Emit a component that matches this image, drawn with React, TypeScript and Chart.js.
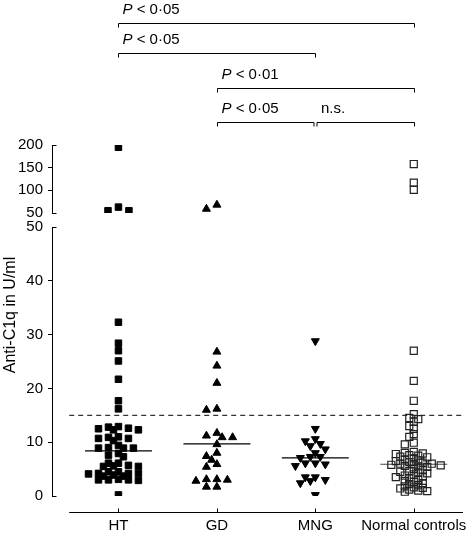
import React, { useEffect, useRef } from 'react';
import { Chart, registerables } from 'chart.js';

Chart.register(...registerables);

// ---------- data ----------
const categories = ['HT', 'GD', 'MNG', 'Normal controls'];

const htValues = [
  195, 63, 55, 55,
  32.3, 28.4, 27.0, 25.1, 21.7, 17.7, 16.2,
  12.9, 12.8, 12.6, 12.5, 12.3, 12.3,
  11.0, 10.9, 10.7, 10.7, 10.3,
  9.4, 9.0, 8.9, 8.9, 8.9,
  7.9, 7.6, 7.3,
  6.1, 6.1, 5.7, 5.6, 5.5, 5.5,
  4.5, 4.5, 4.2, 4.2, 4.2, 4.1, 3.9, 3.7, 3.7,
  3.1, 3.0, 3.0, 3.0, 2.9,
  0.2,
];

const gdValues = [
  68, 59,
  26.8, 24.2, 21.0, 16.2, 16.0,
  11.7, 11.2, 10.9, 10.9, 9.6,
  8.0, 7.4, 6.7, 5.9, 5.4,
  3.1, 3.1, 3.0, 2.8, 1.7, 1.7,
];

const mngValues = [
  28.8, 12.5, 10.6, 10.2, 9.7, 9.3, 8.7, 8.0,
  7.3, 7.3, 7.1, 6.1, 6.1, 5.9, 5.6,
  3.5, 3.5, 3.0, 2.8, 2.4, 0.2,
];

const ncValues = [
  158, 117, 101,
  27.0, 21.4, 17.7, 15.2, 14.5, 14.3, 13.8, 13.0, 12.5, 11.5, 11.0, 9.9, 9.6,
  8.2, 8.0, 7.9, 7.8, 7.6, 7.5, 7.3, 7.2, 7.0,
  6.8, 6.6, 6.5, 6.3, 6.2, 6.0, 6.0, 5.9, 5.8, 5.7, 5.6, 5.5, 5.4,
  5.0, 4.8, 4.6, 4.5, 4.4, 4.2, 4.0, 3.8, 3.6, 3.5, 3.3,
  3.0, 2.8, 2.6, 2.4, 2.2, 2.0,
  1.8, 1.6, 1.5, 1.4, 1.2, 1.0, 0.9, 0.8,
];

const medians = [8.4, 9.7, 7.1, 5.9];
const cutoff = 15;
const breakValue = 50;
const lowTicks = [0, 10, 20, 30, 40, 50];
const highTicks = [50, 100, 150, 200];

const comparisons = [
  { from: 0, to: 3, row: 0, italic: 'P', text: ' < 0·05' },
  { from: 0, to: 2, row: 1, italic: 'P', text: ' < 0·05' },
  { from: 1, to: 3, row: 2, italic: 'P', text: ' < 0·01' },
  { from: 1, to: 2, row: 3, italic: 'P', text: ' < 0·05' },
  { from: 2, to: 3, row: 3, italic: '', text: 'n.s.' },
];

// ---------- styles / layout ----------
const FONT = 'Liberation Sans, Arial, Helvetica, sans-serif';
const W = 476;
const H = 538;
const LOW_PX_PER_UNIT = 269 / 50;
const HIGH_PX_PER_UNIT = 68 / 150;
const CAT_PX = 98.67;
const bracketRowsY = [23, 53, 88, 122];

const groupStyles = [
  { pointStyle: 'rect', rotation: 0, bg: '#000', border: '#000', radius: 4.6, bw: 1, step: 5, bx: 9, by: 5.5 },
  { pointStyle: 'triangle', rotation: 0, bg: '#000', border: '#000', radius: 4.6, bw: 1, step: 5.25, bx: 10, by: 7 },
  { pointStyle: 'triangle', rotation: 180, bg: '#000', border: '#000', radius: 4.6, bw: 1, step: 5, bx: 10, by: 7 },
  { pointStyle: 'rect', rotation: 0, bg: 'rgba(0,0,0,0)', border: '#222', radius: 5, bw: 1.2, step: 4.5, bx: 7.5, by: 4.5 },
];

// beeswarm: x offsets computed from the values (diamond-shaped collision test)
function swarmOffsets(vals: number[], pxPerUnit: number, stepPx: number, bx: number, by: number): number[] {
  const order = vals.map((_, i) => i).sort((a, b) => vals[b] - vals[a]);
  const placed: { px: number; py: number }[] = [];
  const offs = new Array(vals.length).fill(0);
  for (const i of order) {
    const py = vals[i] * pxPerUnit;
    for (let n = 0; n < 80; n++) {
      const k = n === 0 ? 0 : n % 2 === 1 ? -Math.ceil(n / 2) : Math.ceil(n / 2);
      const px = k * stepPx;
      if (placed.every((p) => Math.abs(p.px - px) / bx + Math.abs(p.py - py) / by >= 1)) {
        placed.push({ px, py });
        offs[i] = px / CAT_PX;
        break;
      }
    }
  }
  return offs;
}

const decorPlugin = {
  id: 'decor',
  afterDraw(chart: any) {
    const { ctx, chartArea, scales } = chart;
    const x = scales.x;
    const yLow = scales.yLow;
    const yHigh = scales.yHigh;
    ctx.save();
    ctx.strokeStyle = '#000';
    ctx.fillStyle = '#000';
    ctx.lineWidth = 1;

    // x axis line with upward ticks
    const axisY = Math.round(chartArea.bottom + 16) + 0.5;
    const xl = x.getPixelForValue(-0.5);
    const xr = x.getPixelForValue(3.5);
    ctx.beginPath();
    ctx.moveTo(xl, axisY);
    ctx.lineTo(xr, axisY);
    categories.forEach((_, i) => {
      const px = Math.round(x.getPixelForValue(i)) + 0.5;
      ctx.moveTo(px, axisY);
      ctx.lineTo(px, axisY - 4);
    });
    ctx.stroke();

    // end caps on the y axes (pointing right)
    const capX = Math.round(yLow.right) + 0.5;
    const caps = [
      yLow.getPixelForValue(0), yLow.getPixelForValue(breakValue),
      yHigh.getPixelForValue(breakValue), yHigh.getPixelForValue(200),
    ];
    ctx.beginPath();
    caps.forEach((py) => {
      const yy = Math.round(py) + 0.5;
      ctx.moveTo(capX - 0.5, yy);
      ctx.lineTo(capX + 4, yy);
    });
    ctx.stroke();

    // y axis title
    ctx.save();
    ctx.translate(11, 315);
    ctx.rotate(-Math.PI / 2);
    ctx.textAlign = 'center';
    ctx.textBaseline = 'middle';
    ctx.font = `16px ${FONT}`;
    ctx.fillText('Anti-C1q in U/ml', 0, 0);
    ctx.restore();

    // significance brackets
    comparisons.forEach((c) => {
      const byy = bracketRowsY[c.row] + 0.5;
      const sharesLeft = comparisons.some((o) => o !== c && o.row === c.row && o.to === c.from);
      const sharesRight = comparisons.some((o) => o !== c && o.row === c.row && o.from === c.to);
      const x1 = Math.round(x.getPixelForValue(c.from)) + 0.5 + (sharesLeft ? 1.5 : 0);
      const x2 = Math.round(x.getPixelForValue(c.to)) + 0.5 - (sharesRight ? 1.5 : 0);
      ctx.beginPath();
      ctx.moveTo(x1, byy + 4);
      ctx.lineTo(x1, byy);
      ctx.lineTo(x2, byy);
      ctx.lineTo(x2, byy + 4);
      ctx.stroke();
      let tx = x1 + 4;
      const ty = byy - 10;
      ctx.textAlign = 'left';
      ctx.textBaseline = 'alphabetic';
      if (c.italic) {
        ctx.font = `italic 15px ${FONT}`;
        ctx.fillText(c.italic, tx, ty);
        tx += ctx.measureText(c.italic).width;
      }
      ctx.font = `15px ${FONT}`;
      ctx.fillText(c.text, tx, ty);
    });
    ctx.restore();
  },
};

export default function App() {
  const canvasRef = useRef<HTMLCanvasElement | null>(null);

  useEffect(() => {
    document.body.style.margin = '0';
    const canvas = canvasRef.current;
    if (!canvas) return;

    const groups = [htValues, gdValues, mngValues, ncValues];
    const datasets: any[] = [];

    groups.forEach((vals, i) => {
      const st = groupStyles[i];
      const low = vals.filter((v) => v <= breakValue);
      const high = vals.filter((v) => v > breakValue);
      const lowOff = swarmOffsets(low, LOW_PX_PER_UNIT, st.step, st.bx, st.by);
      const highOff = swarmOffsets(high, HIGH_PX_PER_UNIT, 10.5, 10, 7);
      const common = {
        type: 'scatter',
        pointStyle: st.pointStyle,
        rotation: st.rotation,
        pointRadius: st.radius,
        pointBackgroundColor: st.bg,
        pointBorderColor: st.border,
        pointBorderWidth: st.bw,
        backgroundColor: st.bg,
        borderColor: st.border,
        showLine: false,
        xAxisID: 'x',
      };
      datasets.push({
        ...common,
        label: categories[i],
        yAxisID: 'yLow',
        data: low.map((v, j) => ({ x: i + lowOff[j], y: v })),
      });
      if (high.length) {
        datasets.push({
          ...common,
          label: categories[i] + ' high',
          yAxisID: 'yHigh',
          data: high.map((v, j) => ({ x: i + highOff[j], y: v })),
        });
      }
      datasets.push({
        type: 'line',
        label: categories[i] + ' median',
        xAxisID: 'x',
        yAxisID: 'yLow',
        data: [
          { x: i - 0.34, y: medians[i] },
          { x: i + 0.34, y: medians[i] },
        ],
        borderColor: i === 3 ? '#444' : '#000',
        borderWidth: 1.2,
        pointRadius: 0,
        fill: false,
      });
    });

    datasets.push({
      type: 'line',
      label: 'cut-off',
      xAxisID: 'x',
      yAxisID: 'yLow',
      data: [
        { x: -0.5, y: cutoff },
        { x: 3.5, y: cutoff },
      ],
      borderColor: '#000',
      borderWidth: 1,
      borderDash: [5, 4],
      pointRadius: 0,
      fill: false,
    });

    const tickFont = { family: FONT, size: 15 };
    const yCommon = (ticksArr: number[], min: number, max: number) => ({
      type: 'linear',
      position: 'left',
      stack: 'y',
      min,
      max,
      afterBuildTicks: (s: any) => {
        s.ticks = ticksArr.map((v) => ({ value: v }));
      },
      afterFit: (s: any) => {
        s.width = 52;
      },
      grid: {
        drawOnChartArea: false,
        drawTicks: true,
        tickLength: 4,
        tickWidth: 1,
        tickColor: (ctx: any) =>
          ctx.tick && (ctx.tick.value === min || ctx.tick.value === max) ? 'rgba(0,0,0,0)' : '#000',
      },
      border: { display: true, color: '#000', width: 1 },
      ticks: { color: '#000', font: tickFont, padding: 5, autoSkip: false },
    });

    const chart = new Chart(canvas, {
      type: 'scatter',
      data: { datasets },
      plugins: [decorPlugin],
      options: {
        animation: false,
        responsive: true,
        maintainAspectRatio: false,
        devicePixelRatio: 1,
        layout: { padding: { left: 0, right: 13, top: 145, bottom: 0 } },
        plugins: {
          legend: { display: false },
          tooltip: { enabled: false },
          title: { display: false },
        },
        scales: {
          x: {
            type: 'linear',
            position: 'bottom',
            min: -0.675,
            max: 3.5,
            afterBuildTicks: (s: any) => {
              s.ticks = categories.map((_, i) => ({ value: i }));
            },
            afterFit: (s: any) => {
              s.height = 42;
              s.paddingLeft = 0;
              s.paddingRight = 0;
            },
            grid: { display: false, drawTicks: false },
            border: { display: false },
            ticks: {
              color: '#000',
              font: tickFont,
              padding: 21,
              autoSkip: false,
              maxRotation: 0,
              callback: (v: any) => categories[v as number] ?? '',
            },
          },
          yLow: { ...yCommon(lowTicks, 0, 50), stackWeight: 269, weight: 1 },
          ySpacer: {
            type: 'linear',
            position: 'left',
            stack: 'y',
            stackWeight: 14,
            weight: 2,
            afterFit: (s: any) => {
              s.width = 52;
            },
            grid: { display: false, drawTicks: false },
            border: { display: false },
            ticks: { display: false },
          },
          yHigh: { ...yCommon(highTicks, 50, 200), stackWeight: 68, weight: 3 },
        },
      } as any,
    } as any);

    return () => {
      chart.destroy();
    };
  }, []);

  return (
    <div style={{ width: W, height: H, position: 'relative', background: '#fff' }}>
      <canvas ref={canvasRef} />
    </div>
  );
}
